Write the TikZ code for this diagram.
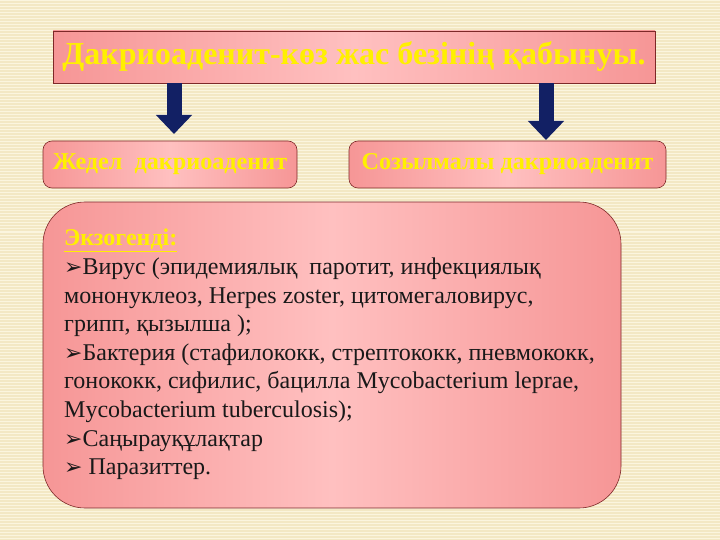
\documentclass[tikz,border=0pt]{standalone}
\usepackage{fontspec}
\setmainfont{Liberation Serif}
\newfontfamily\symfont{DejaVu Sans}
\usetikzlibrary{arrows.meta,positioning}
\definecolor{paper}{RGB}{243,232,196}
\definecolor{paperline}{RGB}{251,245,222}
\definecolor{rosedark}{RGB}{246,150,150}
\definecolor{roselight}{RGB}{255,192,192}
\definecolor{rim}{RGB}{125,40,40}
\definecolor{navy}{RGB}{18,32,100}
\definecolor{titleyellow}{RGB}{255,240,0}
\def\bul{{\symfont\fontsize{22}{22}\selectfont ➢}}
\tikzset{
  pinkbox/.style={draw=rim, line width=0.6pt, left color=rosedark, right color=rosedark, middle color=roselight, inner sep=0pt},
  headtext/.style={text=titleyellow, font=\bfseries\fontsize{24.2}{24.2}\selectfont},
  downarrow/.style={draw=navy, line width=15pt, -{Triangle[width=35pt,length=19pt,fill=navy]}},
}
\begin{document}
\begin{tikzpicture}[x=1pt,y=-1pt]
\useasboundingbox (0,0) rectangle (720,540);
% background
\fill[paper] (0,0) rectangle (720,540);
\foreach \y in {1,4,...,540}
  \draw[paperline, line width=1pt] (0,\y) -- (720,\y);
% title
\node[pinkbox, minimum width=602pt, minimum height=52pt, headtext,
  font=\bfseries\fontsize{32}{32}\selectfont] (title) at (354,57) {Дакриоаденит-көз жас безінің қабынуы.};
% two kinds
\node[pinkbox, rounded corners=9pt, minimum width=254pt, minimum height=47pt, headtext] (acute) at (170,164.5) {Жедел\ \ дакриоаденит};
\node[pinkbox, rounded corners=9pt, minimum width=317pt, minimum height=47pt, headtext] (chronic) at (507.5,164.5) {Созылмалы дакриоаденит};
\coordinate (acutetip) at (174,134);
\coordinate (chronictip) at (546,140);
\draw[downarrow] (title.south -| acutetip) -- (acutetip);
\draw[downarrow] (title.south -| chronictip) -- (chronictip);
% causes
\node[pinkbox, rounded corners=42pt, minimum width=578pt, minimum height=306pt] (causes) at (332,355) {};
\node[anchor=north west, align=left, inner sep=0pt, text=black!90,
  font=\fontsize{24}{28.6}\selectfont] (list) at (64,229)
  {\textcolor{titleyellow}{\bfseries\underline{Экзогенді:}}\\
   \bul Вирус (эпидемиялық\ \ паротит, инфекциялық\\
   мононуклеоз, Herpes zoster, цитомегаловирус,\\
   грипп, қызылша );\\
   \bul Бактерия (стафилококк, стрептококк, пневмококк,\\
   гонококк, сифилис, бацилла Mycobacterium leprae,\\
   Mycobacterium tuberculosis);\\
   \bul Саңырауқұлақтар\\
   \bul\ Паразиттер.};
\end{tikzpicture}
\end{document}
